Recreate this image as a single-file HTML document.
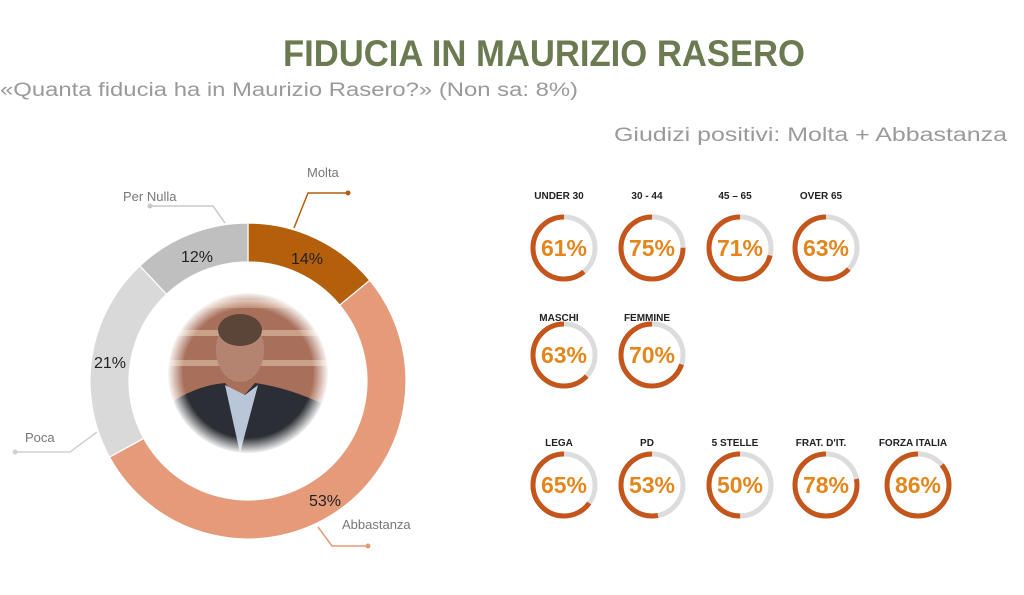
<!DOCTYPE html>
<html><head><meta charset="utf-8"><style>
html,body{margin:0;padding:0;background:#fff;width:1024px;height:595px;overflow:hidden}
svg{display:block}
text{font-family:"Liberation Sans",sans-serif}
</style></head><body>
<svg id="s" width="1024" height="595" viewBox="0 0 1024 595">
<defs>
<radialGradient id="fade" cx="0.5" cy="0.5" r="0.5">
<stop offset="0.8" stop-color="#fff" stop-opacity="0"/>
<stop offset="1" stop-color="#fff" stop-opacity="1"/>
</radialGradient>
<clipPath id="pc"><circle cx="248" cy="373" r="80"/></clipPath>
</defs>
<text x="544" y="66" text-anchor="middle" font-size="37" font-weight="bold" fill="#6b7a50" textLength="522" lengthAdjust="spacingAndGlyphs">FIDUCIA IN MAURIZIO RASERO</text>
<text x="0" y="96" font-size="19" fill="#9a9a9a" textLength="578" lengthAdjust="spacingAndGlyphs">«Quanta fiducia ha in Maurizio Rasero?» (Non sa: 8%)</text>
<text x="614" y="141" font-size="19" fill="#9a9a9a" textLength="393" lengthAdjust="spacingAndGlyphs">Giudizi positivi: Molta + Abbastanza</text>

<g id="donut"></g>
<g clip-path="url(#pc)">
<rect x="168" y="293" width="160" height="160" fill="#a8705a"/>
<rect x="168" y="300" width="160" height="8" fill="#c08a70"/>
<rect x="168" y="330" width="160" height="6" fill="#c9a088"/>
<rect x="168" y="360" width="160" height="6" fill="#c9a088"/>
<ellipse cx="240" cy="350" rx="24" ry="32" fill="#b58470"/>
<ellipse cx="240" cy="330" rx="22" ry="16" fill="#5a4538"/>
<path d="M168 453 L175 400 Q200 385 225 383 L240 400 L255 383 Q290 388 325 405 L328 453 Z" fill="#2b2e35"/>
<path d="M225 385 L240 453 L258 385 L245 395 Z" fill="#b9c6d8"/>
</g>
<circle cx="248" cy="373" r="81" fill="url(#fade)"/>

<g font-size="16" fill="#222">
<text x="197" y="262" text-anchor="middle">12%</text>
<text x="307" y="264" text-anchor="middle">14%</text>
<text x="110" y="368" text-anchor="middle">21%</text>
<text x="325" y="506" text-anchor="middle">53%</text>
</g>
<g font-size="13" fill="#777">
<text x="307" y="177">Molta</text>
<text x="123" y="201">Per Nulla</text>
<text x="25" y="442">Poca</text>
<text x="342" y="529">Abbastanza</text>
</g>
<g fill="none" stroke-width="1.5">
<polyline points="294,228 308,193 348,193" stroke="#b35f0c"/>
<polyline points="225,223 213,206 150,206" stroke="#c8c8c8"/>
<polyline points="97,432 70,452 15,452" stroke="#d0d0d0"/>
<polyline points="318,527 332,546 368,546" stroke="#e59a79"/>
</g>
<circle cx="348" cy="193" r="2.5" fill="#b35f0c"/>
<circle cx="150" cy="206" r="2.5" fill="#c8c8c8"/>
<circle cx="15" cy="452" r="2.5" fill="#d0d0d0"/>
<circle cx="368" cy="546" r="2.5" fill="#e59a79"/>
<g id="rings"></g>
</svg>
<script>
var NS="http://www.w3.org/2000/svg";
function el(t,a,p){var e=document.createElementNS(NS,t);for(var k in a)e.setAttribute(k,a[k]);p.appendChild(e);return e;}
var d=document.getElementById("donut");
var cx=248,cy=381,R=158,ri=119;
function pt(rad,f){var a=f*2*Math.PI-Math.PI/2;return [cx+rad*Math.cos(a),cy+rad*Math.sin(a)];}
var segs=[[14,"#b35f0c"],[53,"#e59a79"],[21,"#d9d9d9"],[12,"#bfbfbf"]];
var acc=0;
segs.forEach(function(s){
 var f0=acc/100,f1=(acc+s[0])/100,large=(s[0]>50)?1:0;
 var a=pt(R,f0),b=pt(R,f1),c=pt(ri,f1),e=pt(ri,f0);
 el("path",{d:"M"+a+" A"+R+" "+R+" 0 "+large+" 1 "+b+" L"+c+" A"+ri+" "+ri+" 0 "+large+" 0 "+e+" Z",fill:s[1],stroke:"#fff","stroke-width":1.2},d);
 acc+=s[0];
});
var g=document.getElementById("rings");
var items=[
["UNDER 30",61,564,248,195],["30 - 44",75,652,248,195],["45 – 65",71,740,248,195],["OVER 65",63,826,248,195],
["MASCHI",63,564,355,317],["FEMMINE",70,652,355,317],
["LEGA",65,564,485,442],["PD",53,652,485,442],["5 STELLE",50,740,485,442],["FRAT. D'IT.",78,826,485,442],["FORZA ITALIA",86,918,485,442]];
items.forEach(function(it){
 var x=it[2],y=it[3],rr=31,c=2*Math.PI*rr,l=it[1]/100*c;
 el("circle",{cx:x,cy:y,r:rr,fill:"none",stroke:"#dcdcdc","stroke-width":5},g);
 el("circle",{cx:x,cy:y,r:rr,fill:"none",stroke:"#c4561c","stroke-width":5,
  "stroke-dasharray":l+" "+(c-l),transform:"translate("+(2*x)+" 0) scale(-1 1) rotate(-90 "+x+" "+y+")"},g);
 var t=el("text",{x:x,y:y+8,"text-anchor":"middle","font-size":23,"font-weight":"bold",fill:"#e3861c"},g);t.textContent=it[1]+"%";
 var lb=el("text",{x:x-5,y:it[4]+4,"text-anchor":"middle","font-size":10,"font-weight":"bold",fill:"#222"},g);lb.textContent=it[0];
});
</script>
</body></html>
